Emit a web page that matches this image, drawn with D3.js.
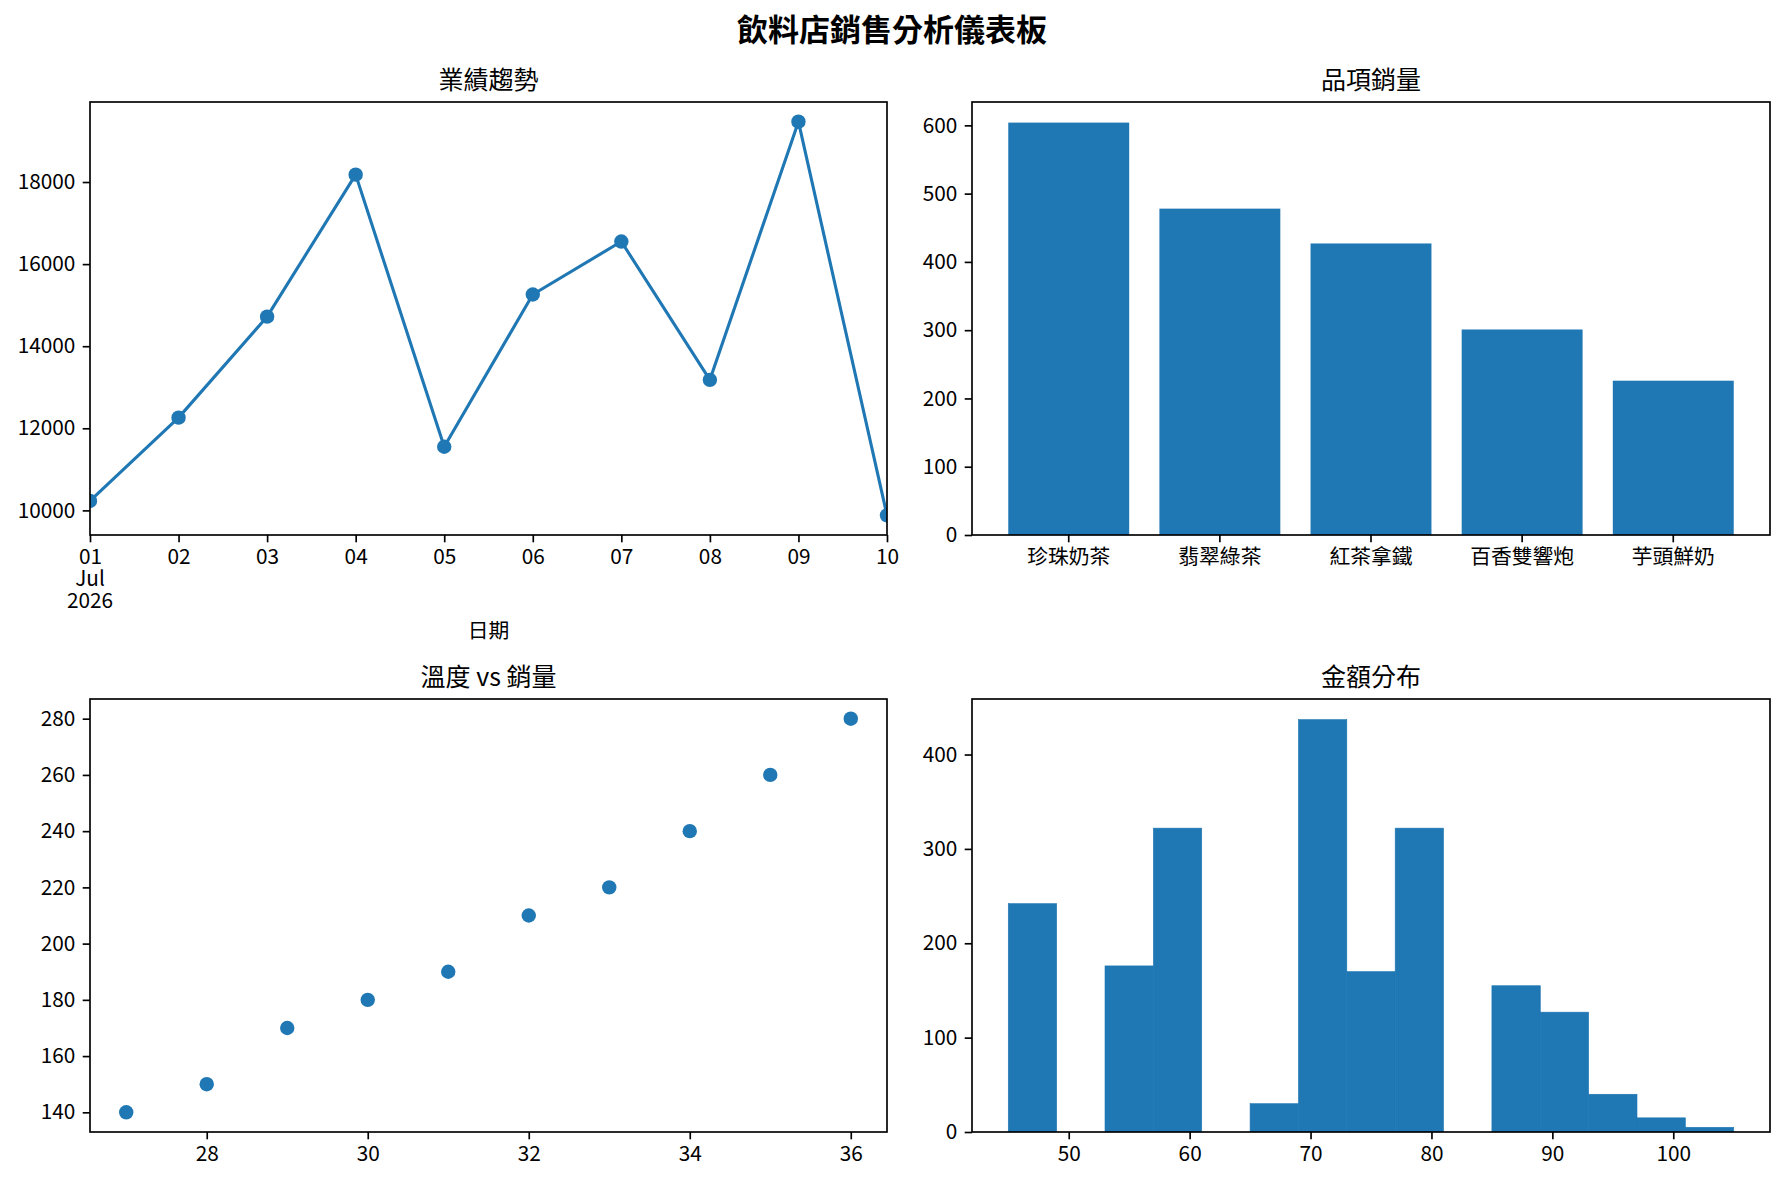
<!DOCTYPE html>
<html>
<head>
<meta charset="utf-8">
<script src="https://cdn.jsdelivr.net/npm/d3@7"></script>
<style>
  body { margin: 0; background: #fff; }
  svg text { font-family: "Noto Sans CJK TC", "Noto Sans CJK SC", sans-serif; fill: #000; }
</style>
</head>
<body>
<div id="chart"></div>
<script>
// 業績趨勢
const dates = ["2026-07-01","2026-07-02","2026-07-03","2026-07-04","2026-07-05",
               "2026-07-06","2026-07-07","2026-07-08","2026-07-09","2026-07-10"];
const revenue = [10230, 12260, 14720, 18180, 11550, 15260, 16550, 13180, 19470, 9880];
const revenueTicks = [10000, 12000, 14000, 16000, 18000];
const dateSubLabels = ["Jul", "2026"];

// 品項銷量
const products = ["珍珠奶茶", "翡翠綠茶", "紅茶拿鐵", "百香雙響炮", "芋頭鮮奶"];
const productSales = [604, 478, 427, 301, 226];
const productTicks = [0, 100, 200, 300, 400, 500, 600];

// 溫度 vs 銷量
const temps = [27, 28, 29, 30, 31, 32, 33, 34, 35, 36];
const tempSales = [140, 150, 170, 180, 190, 210, 220, 240, 260, 280];
const tempTicks = [28, 30, 32, 34, 36];
const tempSalesTicks = [140, 160, 180, 200, 220, 240, 260, 280];

// 金額分布
const binEdges = [45, 49, 53, 57, 61, 65, 69, 73, 77, 81, 85, 89, 93, 97, 101, 105];
const binCounts = [242, 0, 176, 322, 0, 30, 437, 170, 322, 0, 155, 127, 40, 15, 5];
const amountTicks = [50, 60, 70, 80, 90, 100];
const countTicks = [0, 100, 200, 300, 400];

const blue = "#1f77b4";
const W = 1784, H = 1183;
const fs = 20.8;
const dotR = 7.2;

let svg = d3.select("#chart").append("svg")
    .attr("width", W).attr("height", H)
    .style("background", "#fff");

svg.append("text")
    .attr("x", 892).attr("y", 41)
    .attr("text-anchor", "middle")
    .attr("font-size", 31)
    .attr("font-weight", "bold")
    .text("飲料店銷售分析儀表板");

let boxes = [
  {x: 90, y: 102, w: 797, h: 433},
  {x: 972, y: 102, w: 798, h: 433},
  {x: 90, y: 699, w: 797, h: 433},
  {x: 972, y: 699, w: 798, h: 433}
];

function makePanel(box, title, id){
  let g = svg.append("g").attr("transform", `translate(${box.x},${box.y})`);
  g.append("clipPath").attr("id", id)
    .append("rect").attr("width", box.w).attr("height", box.h);
  g.append("text")
    .attr("x", box.w/2).attr("y", -13)
    .attr("text-anchor", "middle")
    .attr("font-size", 25)
    .text(title);
  return g;
}

function styleAxis(sel){
  sel.attr("font-size", fs);
  sel.select(".domain").remove();
  sel.selectAll(".tick line").attr("stroke", "#000").attr("stroke-width", 1.67);
}

function drawAxes(g, box, xAxis, yAxis){
  let gx = g.append("g").attr("class", "x-axis")
    .attr("transform", `translate(0,${box.h})`).call(xAxis).call(styleAxis);
  g.append("g").attr("class", "y-axis").call(yAxis).call(styleAxis);
  g.append("rect")
    .attr("width", box.w).attr("height", box.h)
    .attr("fill", "none").attr("stroke", "#000").attr("stroke-width", 1.67);
  return gx;
}

// ---- 業績趨勢
{
  let box = boxes[0];
  let g = makePanel(box, "業績趨勢", "clip1");
  let parse = d3.timeParse("%Y-%m-%d");
  let dd = dates.map(parse);
  let x = d3.scaleTime().domain(d3.extent(dd)).range([0, box.w]);
  let lo = d3.min(revenue), hi = d3.max(revenue), pad = (hi - lo) * 0.05;
  let y = d3.scaleLinear().domain([lo - pad, hi + pad]).range([box.h, 0]);

  let plot = g.append("g").attr("clip-path", "url(#clip1)");
  plot.append("path")
    .datum(revenue)
    .attr("fill", "none").attr("stroke", blue).attr("stroke-width", 3.1)
    .attr("stroke-linejoin", "round")
    .attr("d", d3.line().x((d, i) => x(dd[i])).y(d => y(d)));
  plot.selectAll(".dot").data(revenue).join("circle")
    .attr("cx", (d, i) => x(dd[i])).attr("cy", d => y(d))
    .attr("r", dotR).attr("fill", blue);

  let xAxis = d3.axisBottom(x).tickValues(dd).tickFormat(d3.timeFormat("%d"))
    .tickSize(7.3).tickPadding(7.3);
  let yAxis = d3.axisLeft(y).tickValues(revenueTicks).tickFormat(d3.format("d"))
    .tickSize(7.3).tickPadding(7.3);
  let gx = drawAxes(g, box, xAxis, yAxis);

  // month / year under the first tick, as separate lines
  gx.selectAll(".sub").data(dateSubLabels).join("text")
    .attr("class", "sub")
    .attr("x", x(dd[0]))
    .attr("y", (d, i) => 14.6 + (i + 1) * 21.8)
    .attr("dy", "0.71em")
    .attr("text-anchor", "middle")
    .attr("font-size", fs)
    .text(d => d);

  g.append("text")
    .attr("x", box.w/2).attr("y", 638 - box.y)
    .attr("text-anchor", "middle")
    .attr("font-size", fs)
    .text("日期");
}

// ---- 品項銷量
{
  let box = boxes[1];
  let g = makePanel(box, "品項銷量", "clip2");
  let x = d3.scaleBand().domain(products).range([0, box.w])
    .paddingInner(0.2).paddingOuter(0.24);
  let y = d3.scaleLinear().domain([0, d3.max(productSales) * 1.05]).range([box.h, 0]);

  g.append("g").attr("clip-path", "url(#clip2)")
    .selectAll("rect").data(products).join("rect")
    .attr("x", d => x(d)).attr("width", x.bandwidth())
    .attr("y", (d, i) => y(productSales[i]))
    .attr("height", (d, i) => y(0) - y(productSales[i]))
    .attr("fill", blue);

  let xAxis = d3.axisBottom(x).tickSize(7.3).tickPadding(7.3);
  let yAxis = d3.axisLeft(y).tickValues(productTicks).tickFormat(d3.format("d"))
    .tickSize(7.3).tickPadding(7.3);
  drawAxes(g, box, xAxis, yAxis);
}

// ---- 溫度 vs 銷量
{
  let box = boxes[2];
  let g = makePanel(box, "溫度 vs 銷量", "clip3");
  let xl = d3.min(temps), xh = d3.max(temps), xp = (xh - xl) * 0.05;
  let yl = d3.min(tempSales), yh = d3.max(tempSales), yp = (yh - yl) * 0.05;
  let x = d3.scaleLinear().domain([xl - xp, xh + xp]).range([0, box.w]);
  let y = d3.scaleLinear().domain([yl - yp, yh + yp]).range([box.h, 0]);

  g.append("g").attr("clip-path", "url(#clip3)")
    .selectAll("circle").data(temps).join("circle")
    .attr("cx", d => x(d)).attr("cy", (d, i) => y(tempSales[i]))
    .attr("r", dotR).attr("fill", blue);

  let xAxis = d3.axisBottom(x).tickValues(tempTicks).tickSize(7.3).tickPadding(7.3);
  let yAxis = d3.axisLeft(y).tickValues(tempSalesTicks).tickSize(7.3).tickPadding(7.3);
  drawAxes(g, box, xAxis, yAxis);
}

// ---- 金額分布
{
  let box = boxes[3];
  let g = makePanel(box, "金額分布", "clip4");
  let lo = binEdges[0], hi = binEdges[binEdges.length - 1], pad = (hi - lo) * 0.05;
  let x = d3.scaleLinear().domain([lo - pad, hi + pad]).range([0, box.w]);
  let y = d3.scaleLinear().domain([0, d3.max(binCounts) * 1.05]).range([box.h, 0]);

  g.append("g").attr("clip-path", "url(#clip4)")
    .selectAll("rect").data(binCounts).join("rect")
    .attr("x", (d, i) => x(binEdges[i]))
    .attr("width", (d, i) => x(binEdges[i + 1]) - x(binEdges[i]))
    .attr("y", d => y(d))
    .attr("height", d => y(0) - y(d))
    .attr("fill", blue)
    .attr("stroke", blue).attr("stroke-width", 0.6);

  let xAxis = d3.axisBottom(x).tickValues(amountTicks).tickSize(7.3).tickPadding(7.3);
  let yAxis = d3.axisLeft(y).tickValues(countTicks).tickSize(7.3).tickPadding(7.3);
  drawAxes(g, box, xAxis, yAxis);
}
</script>
</body>
</html>
